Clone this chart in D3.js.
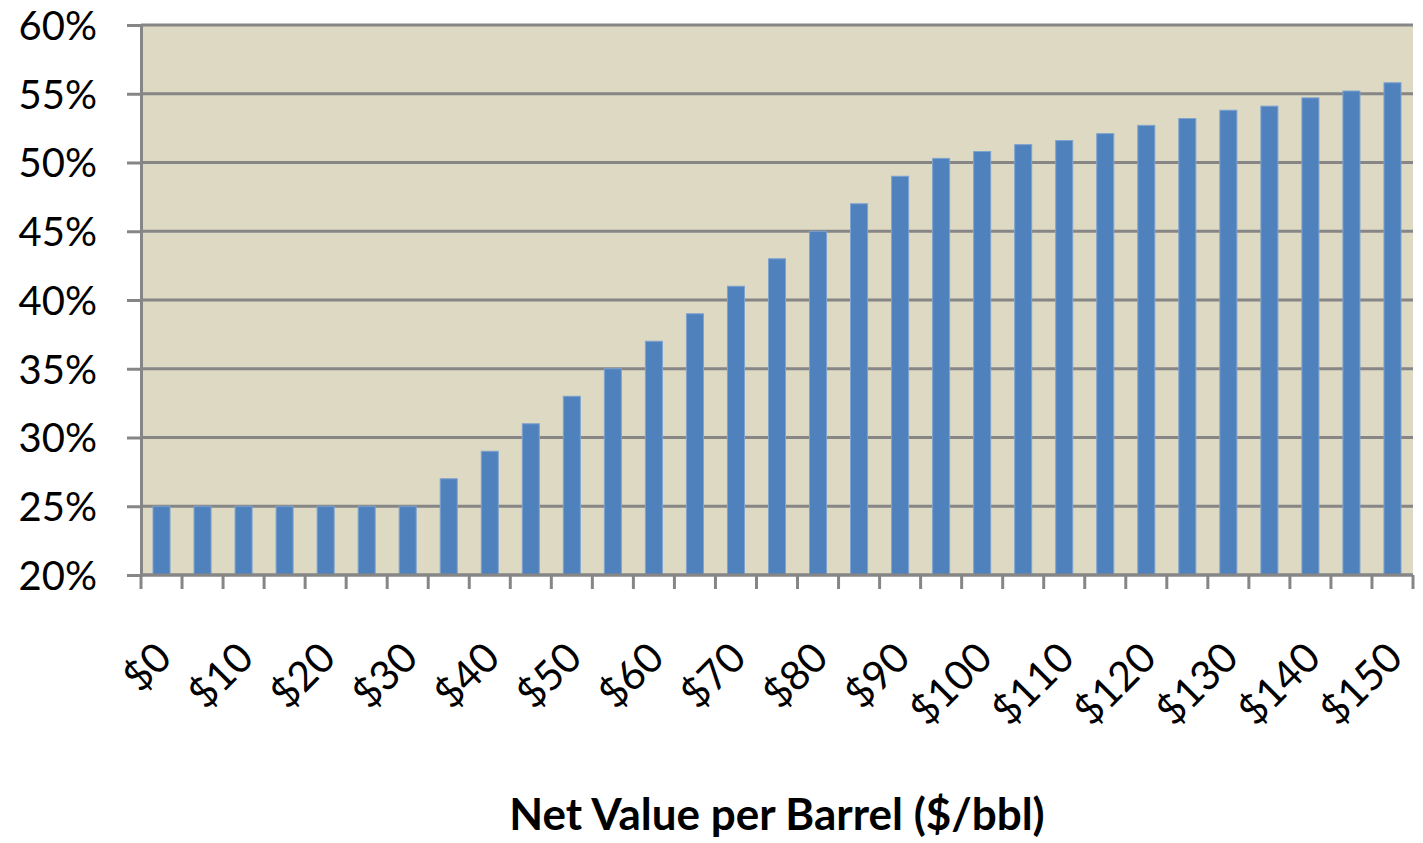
<!DOCTYPE html>
<html><head><meta charset="utf-8">
<script src="https://cdn.jsdelivr.net/npm/d3@7"></script>
<style>body{margin:0;background:#fff}svg{display:block}text{font-family:Lato,"Open Sans",sans-serif}</style>
</head><body><svg id="c" width="1423" height="843"></svg>
<script>
const categories = ["$0","$5","$10","$15","$20","$25","$30","$35","$40","$45","$50","$55","$60","$65","$70","$75","$80","$85","$90","$95","$100","$105","$110","$115","$120","$125","$130","$135","$140","$145","$150"];
const values = [25,25,25,25,25,25,25,27,29,31,33,35,37,39,41,43,45,47,49,50.3,50.8,51.3,51.6,52.1,52.7,53.2,53.8,54.1,54.7,55.2,55.8];
const yTicks = [20,25,30,35,40,45,50,55,60];
const xLabels = ["$0","$10","$20","$30","$40","$50","$60","$70","$80","$90","$100","$110","$120","$130","$140","$150"];
const xTitle = "Net Value per Barrel ($/bbl)";

const svg = d3.select("#c");
const L=141,R=1413,T=25,B=575;
const x = d3.scaleBand().domain(categories).range([L,R]).paddingInner(0.585).paddingOuter(0.2925);
const y = d3.scaleLinear().domain([20,60]).range([B,T]);

svg.append("rect").attr("x",L).attr("y",T).attr("width",R-L).attr("height",B-T).attr("fill","#DDD9C3");

// gridlines + y axis
const yAxis = d3.axisLeft(y).tickValues(yTicks).tickSize(14).tickFormat(d=>d+"%");
const gy = svg.append("g").attr("transform",`translate(${L},0)`).call(yAxis);
gy.select(".domain").attr("stroke","#868686").attr("stroke-width",3);
gy.selectAll(".tick line").attr("stroke","#868686").attr("stroke-width",3);
gy.selectAll(".tick text").attr("x",-44).attr("font-size",40).attr("fill","#000").attr("dy","0.36em");
svg.append("g").selectAll("line").data(yTicks).join("line")
  .attr("x1",L).attr("x2",R).attr("y1",d=>y(d)).attr("y2",d=>y(d))
  .attr("stroke","#868686").attr("stroke-width",3);

// bars
svg.append("g").selectAll("rect").data(values).join("rect")
  .attr("x",(d,i)=>x(categories[i])).attr("width",x.bandwidth())
  .attr("y",d=>y(d)).attr("height",d=>B-y(d))
  .attr("fill","#4F81BD").attr("stroke","#7FA3CF").attr("stroke-width",1);

// x axis
const step = x.step();
const bounds = d3.range(categories.length+1).map(i=>L+i*step);
svg.append("line").attr("x1",L).attr("x2",R).attr("y1",B).attr("y2",B).attr("stroke","#868686").attr("stroke-width",3);
svg.append("g").selectAll("line").data(bounds).join("line")
  .attr("x1",d=>d).attr("x2",d=>d).attr("y1",B).attr("y2",B+14)
  .attr("stroke","#868686").attr("stroke-width",3);

svg.append("g").selectAll("text").data(xLabels).join("text")
  .attr("text-anchor","end").attr("font-size",41).attr("fill","#000")
  .attr("transform",d=>{const cx=x(d)+x.bandwidth()/2-8; const cy=640; return `translate(${cx},${cy}) rotate(-45)`;})
  .attr("dy","0.7em")
  .text(d=>d);

svg.append("text").attr("x",(L+R)/2).attr("y",830).attr("text-anchor","middle")
  .attr("font-size",44).attr("font-weight","bold").attr("fill","#000").text(xTitle);
</script></body></html>
